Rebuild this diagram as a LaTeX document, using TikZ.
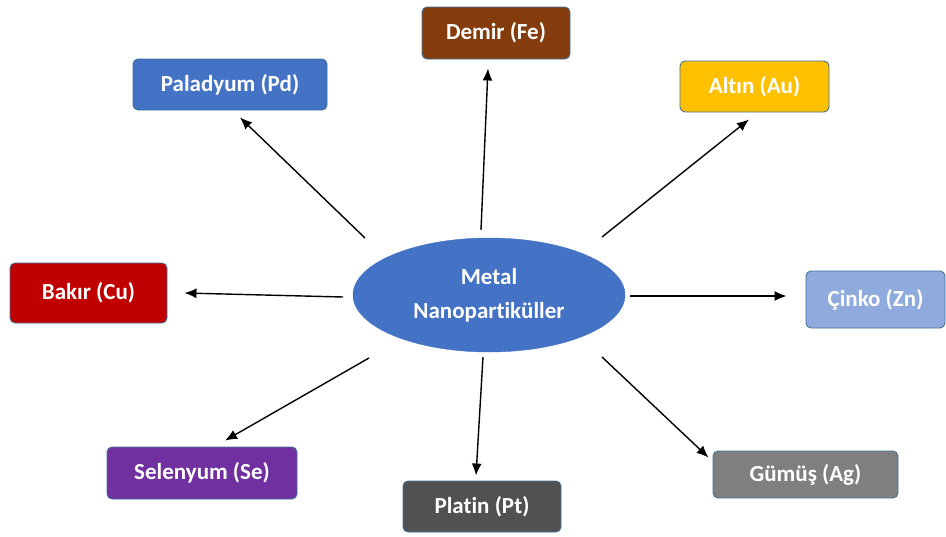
\documentclass[tikz,border=0pt]{standalone}
\usepackage{fontspec}
\setmainfont[Ligatures=NoCommon]{Carlito}
\usetikzlibrary{shapes.geometric,arrows.meta,calc}
\definecolor{cFe}{HTML}{843C0C}
\definecolor{cPd}{HTML}{4472C4}
\definecolor{cAu}{HTML}{FFC000}
\definecolor{cCu}{HTML}{C00000}
\definecolor{cZn}{HTML}{8FAADC}
\definecolor{cSe}{HTML}{7030A0}
\definecolor{cPt}{HTML}{515151}
\definecolor{cAg}{HTML}{7F7F7F}
\definecolor{cEl}{HTML}{4472C4}
\definecolor{cBd}{HTML}{41719C}
\tikzset{
  metalbox/.style={draw=cBd, line width=0.9pt, rounded corners=5pt, inner sep=0pt,
    text=white, font=\fontsize{23}{28}\selectfont\bfseries, align=center},
  arr/.style={-{Latex[length=12pt,width=10pt]}, line width=1.4pt, black},
}
\begin{document}
\begin{tikzpicture}[x=1pt,y=-1pt]
\useasboundingbox (0,0) rectangle (946,536);
\node[ellipse, fill=cEl, draw=cEl, minimum width=272pt, minimum height=114pt, inner sep=0pt,
  text=white, font=\fontsize{23}{34}\selectfont\bfseries, align=center] (el) at (489,295) {Metal\\Nanopartiküller};
\node[metalbox, fill=cFe, minimum width=148pt, minimum height=52pt] (fe) at (496,33) {Demir (Fe)};
\node[metalbox, fill=cPd, minimum width=194pt, minimum height=51pt] (pd) at (230,84.5) {Paladyum (Pd)};
\node[metalbox, fill=cAu, minimum width=149pt, minimum height=51pt] (au) at (754.5,86.5) {Altın (Au)};
\node[metalbox, fill=cCu, minimum width=157pt, minimum height=60pt] (cu) at (88.5,293) {Bakır (Cu)};
\node[metalbox, fill=cZn, minimum width=139pt, minimum height=57pt] (zn) at (875.5,299.5) {Çinko (Zn)};
\node[metalbox, fill=cSe, minimum width=190pt, minimum height=52pt] (se) at (202,473) {Selenyum (Se)};
\node[metalbox, fill=cPt, minimum width=158pt, minimum height=51pt] (pt) at (482,506.5) {Platin (Pt)};
\node[metalbox, fill=cAg, minimum width=185pt, minimum height=47pt] (ag) at (805.5,474.5) {Gümüş (Ag)};
\draw[arr] ($(el.center)+(-124,-57)$) -- ($(pd.south)+(10,7)$);
\draw[arr] ($(el.center)+(-8,-65)$) -- ($(fe.south)+(-8,9)$);
\draw[arr] ($(el.center)+(113,-58)$) -- ($(au.south)+(-5.5,7)$);
\draw[arr] ($(el.center)+(-146,2)$) -- ($(cu.east)+(17,0)$);
\draw[arr] ($(el.center)+(141,1)$) -- ($(zn.west)+(-19,-3.5)$);
\draw[arr] ($(el.center)+(-120,63)$) -- ($(se.north)+(23,-6)$);
\draw[arr] ($(el.center)+(-6,62)$) -- ($(pt.north)+(-6,-5)$);
\draw[arr] ($(el.center)+(113,62)$) -- ($(ag.north west)+(-4,7)$);
\end{tikzpicture}
\end{document}
